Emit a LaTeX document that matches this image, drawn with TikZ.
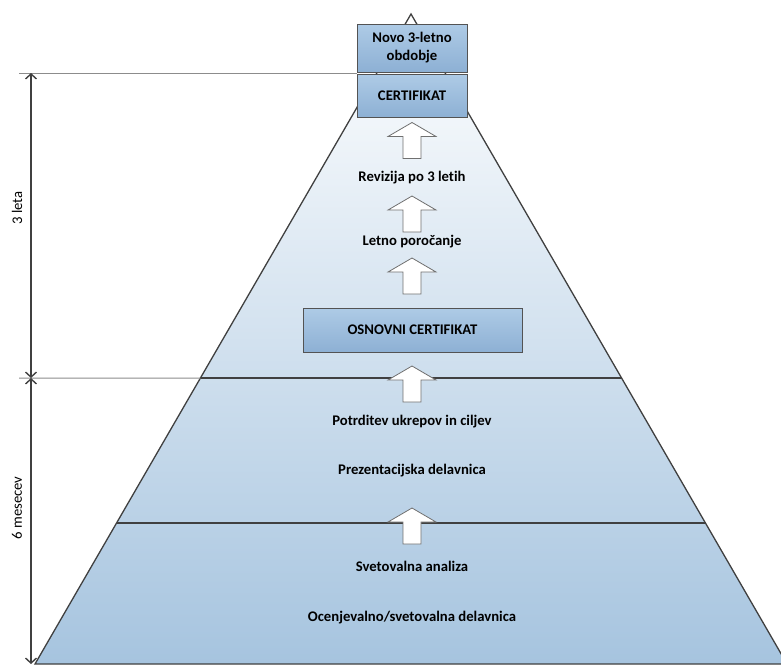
\documentclass[tikz,border=0pt]{standalone}
\usepackage{fontspec}
\setmainfont{Carlito}[Ligatures=NoCommon]
\usetikzlibrary{arrows.meta,positioning,calc}

\definecolor{pyrbot}{HTML}{A6C4DF}
\definecolor{boxtop}{HTML}{AECBE6}
\definecolor{boxbot}{HTML}{8DB0D4}
\definecolor{edgegray}{HTML}{404040}
\definecolor{extgray}{HTML}{8C8C8C}

\tikzset{
  uparr/.pic={
    \draw[draw=edgegray!75, fill=white, line width=0.8pt, line join=miter]
      (0,-18) -- (24,-4) -- (9,-4) -- (9,18) -- (-9,18) -- (-9,-4) -- (-24,-4) -- cycle;
  }
}

\begin{document}
\begin{tikzpicture}[
  x=1pt, y=-1pt,
  stage/.style={font=\bfseries\fontsize{14.7}{17}\selectfont, align=center, inner sep=1pt},
  certbox/.style={draw=edgegray!90, line width=1pt, top color=boxtop, bottom color=boxbot, font=\bfseries\fontsize{14.7}{18}\selectfont, align=center, inner sep=0pt},
  dim/.style={{Straight Barb[length=5pt,width=11pt]}-{Straight Barb[length=5pt,width=11pt]}, line width=1.4pt, draw=edgegray},
  ext/.style={draw=extgray, line width=1pt},
  band/.style={draw=edgegray, line width=1.3pt},
  dimlabel/.style={font=\fontsize{14.7}{17}\selectfont, rotate=90, inner sep=0pt}
]
  \useasboundingbox (0,0) rectangle (781,664);

  % pyramid
  \coordinate (apex) at (411,14);
  \coordinate (bl) at (35,664);
  \coordinate (br) at (787,664);
  \draw[top color=white, bottom color=pyrbot, draw=edgegray, line width=1.3pt] (apex) -- (bl) -- (br) -- cycle;
  \coordinate (l1) at ($(apex)!0.56!(bl)$);
  \coordinate (r1) at ($(apex)!0.56!(br)$);
  \coordinate (l2) at ($(apex)!0.7831!(bl)$);
  \coordinate (r2) at ($(apex)!0.7831!(br)$);
  \draw[band] (l1) -- (r1);
  \draw[band] (l2) -- (r2);

  % boxes
  \node[certbox, minimum width=110pt, minimum height=48pt] (novo) at (412,48) {Novo 3-letno\\obdobje};
  \node[certbox, minimum width=110pt, minimum height=43pt, below=1pt of novo] (cert) {CERTIFIKAT};
  \node[certbox, minimum width=219pt, minimum height=44pt] (osnovni) at (412.5,330) {OSNOVNI CERTIFIKAT};

  % arrows
  \pic (a1) at (412,140.5) {uparr};
  \pic (a2) at (412,214) {uparr};
  \pic (a3) at (412,276) {uparr};
  \pic (a4) at (412,384) {uparr};
  \pic (a5) at (412,526) {uparr};

  % stages
  \node[stage] (revizija) at (412,178) {Revizija po 3 letih};
  \node[stage] (letno) at (412,242) {Letno poročanje};
  \node[stage] (potrditev) at (412,422) {Potrditev ukrepov in ciljev};
  \node[stage] (prezent) at (412,471) {Prezentacijska delavnica};
  \node[stage] (analiza) at (412,566) {Svetovalna analiza};
  \node[stage] (ocena) at (412,618) {Ocenjevalno/svetovalna delavnica};

  % time scale
  \coordinate (e1) at (19,73);
  \coordinate (e2) at (19,378);
  \coordinate (d1) at (31,73);
  \coordinate (d2) at (31,378);
  \coordinate (d3) at (31,664);
  \draw[ext] (e1) -- (e1 -| cert.west);
  \draw[ext] (e2) -- (l1);
  \draw[dim] (d1) -- (d2);
  \draw[dim] (d2) -- (d3);
  \node[dimlabel] (leta) at (17,208) {3 leta};
  \node[dimlabel] (mesecev) at (17,508) {6 mesecev};
\end{tikzpicture}
\end{document}
